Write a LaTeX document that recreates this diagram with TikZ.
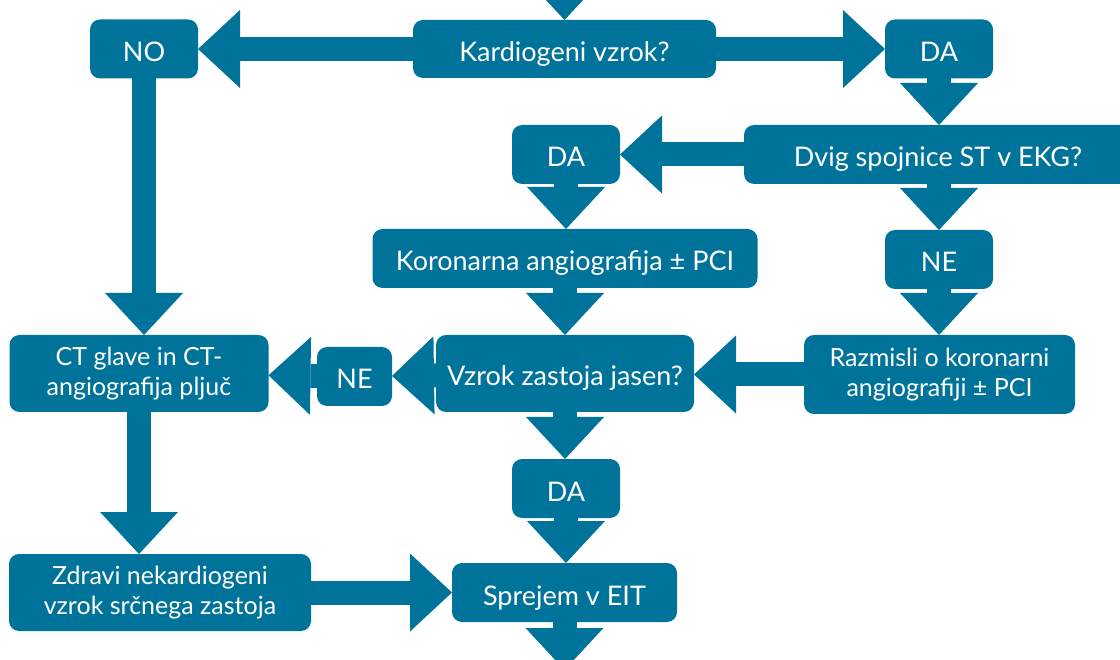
\documentclass[tikz,border=0pt]{standalone}
\usepackage{fontspec}
\setmainfont{Lato}
\usepackage{tikz}
\usetikzlibrary{arrows.meta,positioning}
\definecolor{flowblue}{RGB}{0,115,155}

\begin{document}
\begin{tikzpicture}[x=1pt,y=-1pt,->,>={Triangle[width=78pt,length=42pt,line width=0pt]},
                    line width=24pt,color=flowblue,
                    basebox/.style={fill=flowblue,text=white,rounded corners=10pt,inner sep=0pt,
                                outer sep=0pt,align=center},
                    box/.style={basebox,text height=25pt,text depth=0pt,font=\fontsize{27}{30}\selectfont},
                    twoline/.style={basebox,font=\fontsize{25}{30}\selectfont},
                    answer/.style={box,minimum width=108pt,minimum height=59pt}]

  \useasboundingbox (0,0) rectangle (1120,660);

  \coordinate (topin) at (564.5,-60);
  \coordinate (botout) at (564.5,670);

  \node[box,minimum width=303pt,minimum height=58pt] at(564.5,49) (kard) {Kardiogeni vzrok?};
  \node[answer] at(144,49) (no) {NO};
  \node[answer] at(939,49) (da1) {DA};
  \node[box,minimum width=388pt,minimum height=59pt] at(938,154.5) (dvig) {Dvig spojnice ST v EKG?};
  \node[answer] at(566,154.5) (da2) {DA};
  \node[box,minimum width=385pt,minimum height=59pt] at(565,258.5) (koro) {Koronarna angiografija ± PCI};
  \node[answer] at(939,259.5) (ne1) {NE};
  \node[twoline,minimum width=271pt,minimum height=79pt] at(939.5,374.5) (razm) {Razmisli o koronarni\\angiografiji ± PCI};
  \node[box,minimum width=258pt,minimum height=77pt] at(565,373.5) (vzrok) {Vzrok zastoja jasen?};
  \node[box,minimum width=75pt,minimum height=59pt] at(354.5,376.5) (ne2) {NE};
  \node[twoline,minimum width=259pt,minimum height=77pt] at(139,373.5) (ct) {CT glave in CT-\\angiografija pljuč};
  \node[answer] at(566,488.5) (da3) {DA};
  \node[twoline,minimum width=302pt,minimum height=77pt] at(160,592.5) (zdravi) {Zdravi nekardiogeni\\vzrok srčnega zastoja};
  \node[box,minimum width=225pt,minimum height=59pt] at(564.5,592.5) (sprejem) {Sprejem v EIT};

  \path (topin) edge (kard.north)
        (kard) edge (no)
        (kard) edge (da1)
        (da1.south) edge (da1.south |- dvig.north)
        (dvig) edge (da2)
        (da2.south) edge (da2.south |- koro.north)
        (dvig.south -| ne1.north) edge (ne1.north)
        (koro.south) edge (koro.south |- vzrok.north)
        (ne1.south) edge (ne1.south |- razm.north)
        (razm.west) edge (razm.west -| vzrok.east)
        (vzrok) edge (ne2)
        (ne2) edge (ct)
        (no.south) edge (no.south |- ct.north)
        (ct.south) edge (ct.south |- zdravi.north)
        (zdravi) edge (sprejem)
        (vzrok.south) edge (vzrok.south |- da3.north)
        (da3.south) edge (da3.south |- sprejem.north)
        (sprejem) edge (botout)
        ;

\end{tikzpicture}
\end{document}
